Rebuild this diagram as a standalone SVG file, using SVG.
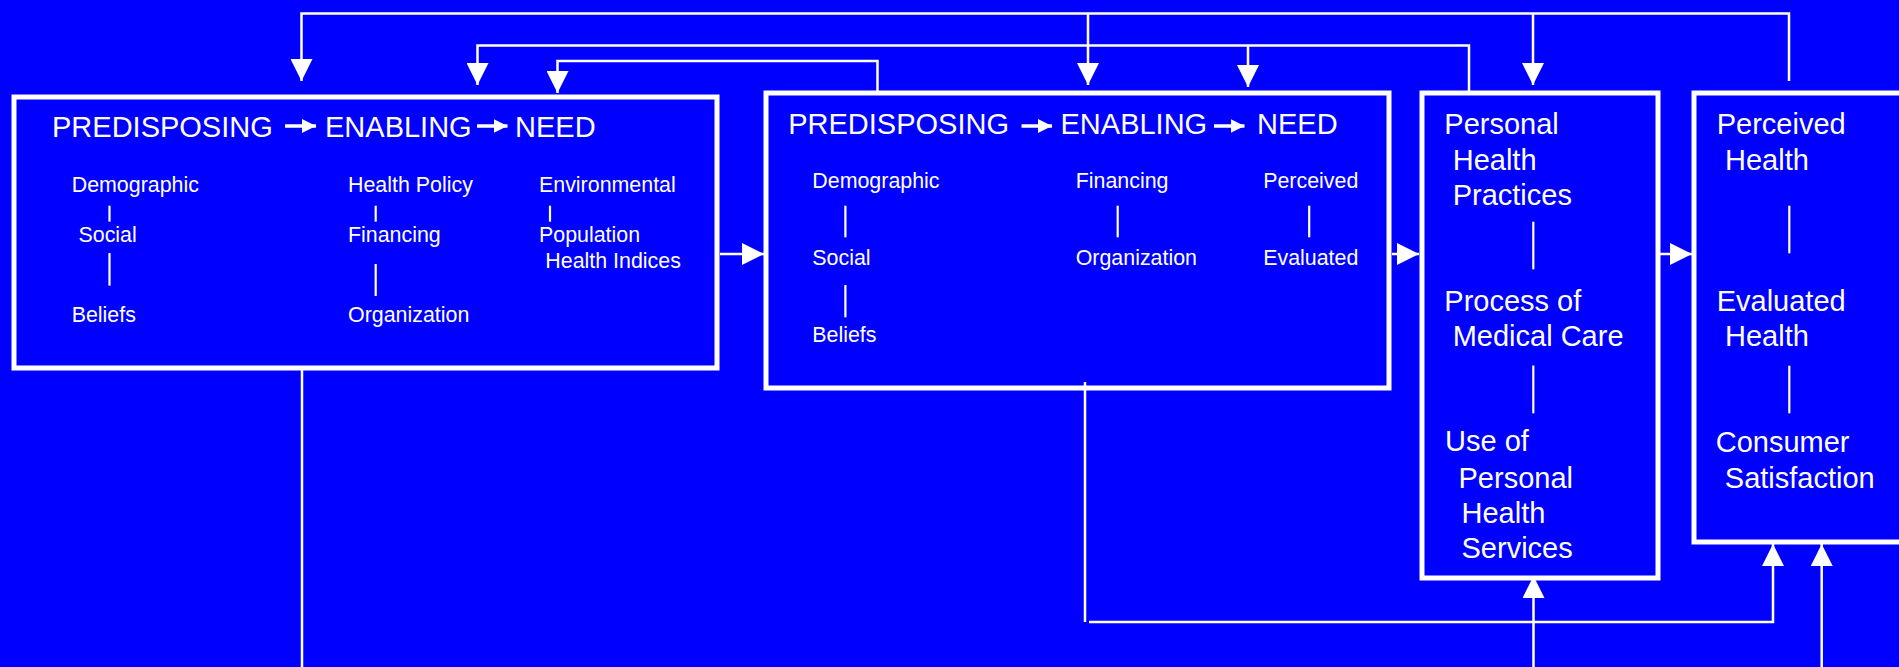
<svg xmlns="http://www.w3.org/2000/svg" width="1899" height="667" viewBox="0 0 1899 667">
<defs>
<style>
.box{fill:none;stroke:#fff;stroke-width:5}
.ln{fill:none;stroke:#fff;stroke-width:2.5}
.tk{stroke:#fff;stroke-width:2.2}
.ta{stroke:#fff;stroke-width:3.5;fill:none}
.t{font-family:"Liberation Sans",Arial,sans-serif;fill:#fff}
.h{font-size:29px}
.s{font-size:21.4px}
</style>
<marker id="big" viewBox="0 0 22 22" refX="22" refY="11" markerWidth="22" markerHeight="22" markerUnits="userSpaceOnUse" orient="auto"><path d="M0,0 L22,11 L0,22 Z" fill="#fff"/></marker>
<marker id="sm" viewBox="0 0 14 14" refX="14" refY="7" markerWidth="14" markerHeight="14" markerUnits="userSpaceOnUse" orient="auto"><path d="M0,0 L14,7 L0,14 Z" fill="#fff"/></marker>
</defs>
<rect width="1899" height="667" fill="#0000FF"/>
<g id="connectors">
<path class="ln" d="M1789,81 V13.5 H301.5 V81" marker-end="url(#big)"/>
<path class="ln" d="M1088,13.5 V85" marker-end="url(#big)"/>
<path class="ln" d="M1533,13.5 V85" marker-end="url(#big)"/>
<path class="ln" d="M1469,91 V45.5 H477.5 V85" marker-end="url(#big)"/>
<path class="ln" d="M1248,45.5 V87" marker-end="url(#big)"/>
<path class="ln" d="M877.5,91 V61 H557.5 V93" marker-end="url(#big)"/>
<path class="ln" stroke-width="3" d="M720,254 H764" marker-end="url(#big)"/>
<path class="ln" stroke-width="3" d="M1392,254 H1419" marker-end="url(#big)"/>
<path class="ln" stroke-width="3" d="M1660,254 H1692" marker-end="url(#big)"/>
<path class="ln" d="M302,366 V667"/>
<path class="ln" d="M1085,382 V622"/>
<path class="ln" d="M1089,622 H1773 V544" marker-end="url(#big)"/>
<path class="ln" d="M1533.5,667 V576" marker-end="url(#big)"/>
<path class="ln" d="M1821.7,667 V544" marker-end="url(#big)"/>
</g>
<g id="node1">
<rect class="box" x="14" y="97" width="703" height="271"/>
<text class="t h" x="52" y="137.3">PREDISPOSING</text>
<path class="ta" d="M285,126 H316" marker-end="url(#sm)"/>
<text class="t h" x="325" y="137.3">ENABLING</text>
<path class="ta" d="M477,126 H507.5" marker-end="url(#sm)"/>
<text class="t h" x="515" y="137.3">NEED</text>
<text class="t s" x="71.7" y="191.7">Demographic</text>
<line class="tk" x1="109.5" y1="205.7" x2="109.5" y2="221.7"/>
<text class="t s" x="78.5" y="242.3">Social</text>
<line class="tk" x1="109.5" y1="253" x2="109.5" y2="285.7"/>
<text class="t s" x="71.7" y="322.3">Beliefs</text>
<text class="t s" x="348" y="191.7">Health Policy</text>
<line class="tk" x1="375.7" y1="205.7" x2="375.7" y2="221.7"/>
<text class="t s" x="348" y="242.3">Financing</text>
<line class="tk" x1="375.7" y1="264" x2="375.7" y2="296"/>
<text class="t s" x="348" y="322.3">Organization</text>
<text class="t s" x="539" y="191.7">Environmental</text>
<line class="tk" x1="550" y1="205.7" x2="550" y2="221.7"/>
<text class="t s" x="539" y="242.3">Population</text>
<text class="t s" x="545.3" y="268.3">Health Indices</text>
</g>
<g id="node2">
<rect class="box" x="766" y="93" width="623" height="295"/>
<text class="t h" x="788.2" y="134">PREDISPOSING</text>
<path class="ta" d="M1021.5,126 H1052" marker-end="url(#sm)"/>
<text class="t h" x="1060.5" y="134">ENABLING</text>
<path class="ta" d="M1214,126 H1244.5" marker-end="url(#sm)"/>
<text class="t h" x="1257" y="134">NEED</text>
<text class="t s" x="812.3" y="188.3">Demographic</text>
<line class="tk" x1="845.4" y1="205.7" x2="845.4" y2="237.3"/>
<text class="t s" x="812.3" y="265">Social</text>
<line class="tk" x1="845.4" y1="285" x2="845.4" y2="317.3"/>
<text class="t s" x="812.3" y="341.7">Beliefs</text>
<text class="t s" x="1075.7" y="188.3">Financing</text>
<line class="tk" x1="1117.7" y1="205.7" x2="1117.7" y2="237.3"/>
<text class="t s" x="1075.7" y="265">Organization</text>
<text class="t s" x="1263.2" y="188.3">Perceived</text>
<line class="tk" x1="1309.2" y1="205.7" x2="1309.2" y2="237.3"/>
<text class="t s" x="1263.2" y="265">Evaluated</text>
</g>
<g id="node3">
<rect class="box" x="1422" y="93" width="236" height="485"/>
<text class="t h" x="1444.3" y="134.3">Personal</text>
<text class="t h" x="1452.7" y="170">Health</text>
<text class="t h" x="1452.7" y="205">Practices</text>
<line class="tk" x1="1533.3" y1="221.7" x2="1533.3" y2="269.3"/>
<text class="t h" x="1444.3" y="311">Process of</text>
<text class="t h" x="1452.7" y="346">Medical Care</text>
<line class="tk" x1="1533.3" y1="365.5" x2="1533.3" y2="413.3"/>
<text class="t h" x="1445" y="450.7">Use of</text>
<text class="t h" x="1458.5" y="487.7">Personal</text>
<text class="t h" x="1461.5" y="522.7">Health</text>
<text class="t h" x="1461.5" y="558.3">Services</text>
</g>
<g id="node4">
<rect class="box" x="1694" y="93" width="230" height="449"/>
<text class="t h" x="1716.7" y="134.3">Perceived</text>
<text class="t h" x="1725" y="170">Health</text>
<line class="tk" x1="1789.3" y1="205.7" x2="1789.3" y2="253.3"/>
<text class="t h" x="1716.7" y="311">Evaluated</text>
<text class="t h" x="1725" y="346">Health</text>
<line class="tk" x1="1789.3" y1="365.7" x2="1789.3" y2="413.3"/>
<text class="t h" x="1715.7" y="451.7">Consumer</text>
<text class="t h" x="1724.8" y="487.7">Satisfaction</text>
</g>
</svg>
